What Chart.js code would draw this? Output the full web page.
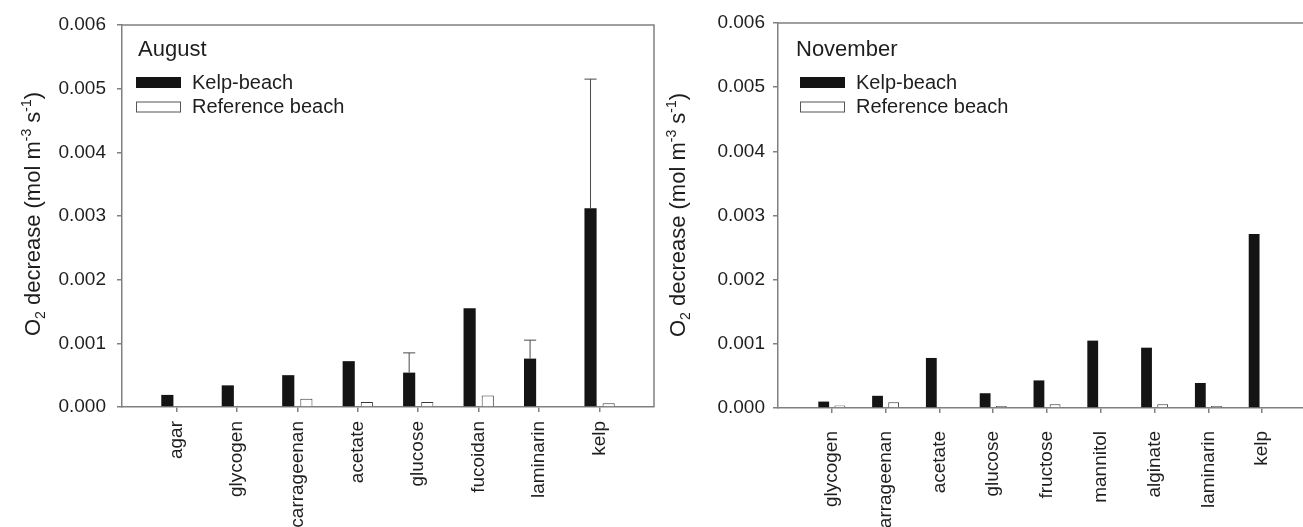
<!DOCTYPE html>
<html>
<head>
<meta charset="utf-8">
<script src="https://cdn.jsdelivr.net/npm/chart.js@4.4.1/dist/chart.umd.min.js"></script>
<style>
  html, body { margin: 0; padding: 0; background: #fff; overflow: hidden; width: 1303px; height: 527px; }
  canvas { position: absolute; top: 0; }
  #aug { left: 0; }
  #nov { left: 658px; }
</style>
</head>
<body>
<canvas id="aug" width="658" height="527"></canvas>
<canvas id="nov" width="662" height="527"></canvas>
<script>
// Oxygen consumption rates by substrate (mol m-3 s-1)
const seriesNames = ['Kelp-beach', 'Reference beach'];

const augustCategories = ['agar', 'glycogen', 'carrageenan', 'acetate', 'glucose', 'fucoidan', 'laminarin', 'kelp'];
const augustKelp       = [0.00019, 0.00034, 0.00050, 0.00072, 0.00054, 0.00155, 0.00076, 0.00312];
const augustKelpErr    = [0, 0, 0, 0, 0.00031, 0, 0.00029, 0.00203];
const augustRef        = [0, 0.00001, 0.00013, 0.00008, 0.00008, 0.00018, 0, 0.00006];

const novemberCategories = ['glycogen', 'carrageenan', 'acetate', 'glucose', 'fructose', 'mannitol', 'alginate', 'laminarin', 'kelp'];
const novemberKelp       = [0.00010, 0.00019, 0.00078, 0.00023, 0.00043, 0.00105, 0.00094, 0.00039, 0.00271];
const novemberRef        = [0.00004, 0.00009, 0, 0.00003, 0.00006, 0, 0.00006, 0.00003, 0];

const yTickValues = [0, 0.001, 0.002, 0.003, 0.004, 0.005, 0.006];

const FONT = "'Liberation Sans', Arial, Helvetica, sans-serif";
const AXIS = '#808080';
const INK = '#1e1e1e';

// Top and right frame lines around the plot area
const frameLines = {
  id: 'frameLines',
  afterDraw(chart) {
    const { ctx, chartArea: a } = chart;
    ctx.save();
    ctx.strokeStyle = AXIS;
    ctx.lineWidth = 1.5;
    ctx.beginPath();
    ctx.moveTo(a.left, a.top);
    ctx.lineTo(a.right, a.top);
    ctx.lineTo(a.right, a.bottom);
    ctx.stroke();
    ctx.restore();
  }
};

// Upper error whiskers for datasets carrying an errorPlus array
const errorBars = {
  id: 'errorBars',
  afterDatasetsDraw(chart) {
    const { ctx } = chart;
    const yScale = chart.scales.y;
    chart.data.datasets.forEach((ds, di) => {
      if (!ds.errorPlus) return;
      const meta = chart.getDatasetMeta(di);
      meta.data.forEach((el, i) => {
        const err = ds.errorPlus[i];
        if (!err) return;
        const v = ds.data[i].y;
        const yTop = yScale.getPixelForValue(v + err);
        const half = el.width / 2;
        ctx.save();
        ctx.strokeStyle = '#4a4a4a';
        ctx.lineWidth = 1;
        ctx.beginPath();
        ctx.moveTo(el.x, el.y);
        ctx.lineTo(el.x, yTop);
        ctx.moveTo(el.x - half, yTop);
        ctx.lineTo(el.x + half, yTop);
        ctx.stroke();
        ctx.restore();
      });
    });
  }
};

// Panel title, legend and the rotated y-axis title with sub/superscripts
const panelText = {
  id: 'panelText',
  afterDraw(chart, args, o) {
    const { ctx } = chart;
    ctx.save();
    ctx.fillStyle = INK;
    ctx.textBaseline = 'alphabetic';
    ctx.textAlign = 'left';
    ctx.font = `22px ${FONT}`;
    ctx.fillText(o.title, o.titleX, o.titleY);

    chart.data.datasets.forEach((ds, i) => {
      const y = o.legendY + i * 24.5;
      ctx.fillStyle = ds.backgroundColor;
      ctx.fillRect(o.legendX, y, 45, 11);
      if (ds.borderWidth) {
        ctx.strokeStyle = '#555';
        ctx.lineWidth = 1;
        ctx.strokeRect(o.legendX + 0.5, y + 0.5, 44, 10);
      }
      ctx.fillStyle = INK;
      ctx.font = `20px ${FONT}`;
      ctx.textBaseline = 'middle';
      ctx.fillText(ds.label, o.legendX + 56, y + 6);
      ctx.textBaseline = 'alphabetic';
    });

    const parts = [
      { t: 'O', s: 22, dy: 0 },
      { t: '2', s: 14, dy: 5 },
      { t: ' decrease (mol m', s: 22, dy: 0 },
      { t: '-3', s: 14, dy: -9 },
      { t: ' s', s: 22, dy: 0 },
      { t: '-1', s: 14, dy: -9 },
      { t: ')', s: 22, dy: 0 }
    ];
    let total = 0;
    parts.forEach(p => { ctx.font = `${p.s}px ${FONT}`; p.w = ctx.measureText(p.t).width; total += p.w; });
    ctx.translate(o.yTitleX, o.yTitleY);
    ctx.rotate(-Math.PI / 2);
    let x = -total / 2;
    parts.forEach(p => {
      ctx.font = `${p.s}px ${FONT}`;
      ctx.fillText(p.t, x, p.dy);
      x += p.w;
    });
    ctx.restore();
  }
};

function makePanel(id, cats, kelp, ref, kelpErr, cfg) {
  const datasets = [
    {
      label: seriesNames[0],
      data: kelp.map((v, i) => ({ x: i + 1, y: v })),
      backgroundColor: '#141414',
      borderWidth: 0,
      errorPlus: kelpErr
    },
    {
      label: seriesNames[1],
      data: ref.map((v, i) => ({ x: i + 1, y: v })),
      backgroundColor: '#ffffff',
      borderColor: '#3a3a3a',
      borderWidth: 1
    }
  ];
  return new Chart(document.getElementById(id), {
    type: 'bar',
    data: { datasets },
    plugins: [frameLines, errorBars, panelText],
    options: {
      responsive: false,
      animation: false,
      devicePixelRatio: 1,
      categoryPercentage: 0.6,
      barPercentage: 0.67,
      layout: { padding: { left: 0, top: cfg.top, right: cfg.right, bottom: 0 } },
      plugins: {
        legend: { display: false },
        tooltip: { enabled: false },
        panelText: cfg.text
      },
      scales: {
        x: {
          type: 'linear',
          min: cfg.xMin,
          max: cfg.xMax,
          offset: false,
          afterBuildTicks: s => { s.ticks = cats.map((_, i) => ({ value: i + 1 })); },
          afterFit: s => { s.height = cfg.xHeight; },
          grid: { drawOnChartArea: false, drawTicks: true, tickLength: 5, color: AXIS, lineWidth: 1.5, offset: false },
          border: { display: true, color: AXIS, width: 1.5 },
          ticks: {
            autoSkip: false, maxRotation: 90, minRotation: 90, padding: cfg.xPad,
            color: INK, font: { family: FONT, size: 19 },
            callback: v => cats[v - 1] ?? ''
          }
        },
        y: {
          min: 0,
          max: 0.006,
          afterBuildTicks: s => { s.ticks = yTickValues.map(v => ({ value: v })); },
          afterFit: s => { s.width = cfg.yWidth; },
          grid: { drawOnChartArea: false, drawTicks: true, tickLength: 5, color: AXIS, lineWidth: 1.5 },
          border: { display: true, color: AXIS, width: 1.5 },
          ticks: {
            padding: cfg.yPad, color: INK, font: { family: FONT, size: 19 },
            callback: v => Number(v).toFixed(3)
          }
        }
      }
    }
  });
}

makePanel('aug', augustCategories, augustKelp, augustRef, augustKelpErr, {
  top: 25, right: 4, xMin: 0.1, xMax: 8.9, xHeight: 120, xPad: 9, yWidth: 122, yPad: 11,
  text: { title: 'August', titleX: 138, titleY: 56, legendX: 136, legendY: 77, yTitleX: 40, yTitleY: 214 }
});

makePanel('nov', novemberCategories, novemberKelp, novemberRef, null, {
  top: 23, right: 4, xMin: 0, xMax: 10, xHeight: 119, xPad: 18, yWidth: 120, yPad: 8,
  text: { title: 'November', titleX: 138, titleY: 56, legendX: 142, legendY: 77, yTitleX: 27, yTitleY: 215 }
});
</script>
</body>
</html>
